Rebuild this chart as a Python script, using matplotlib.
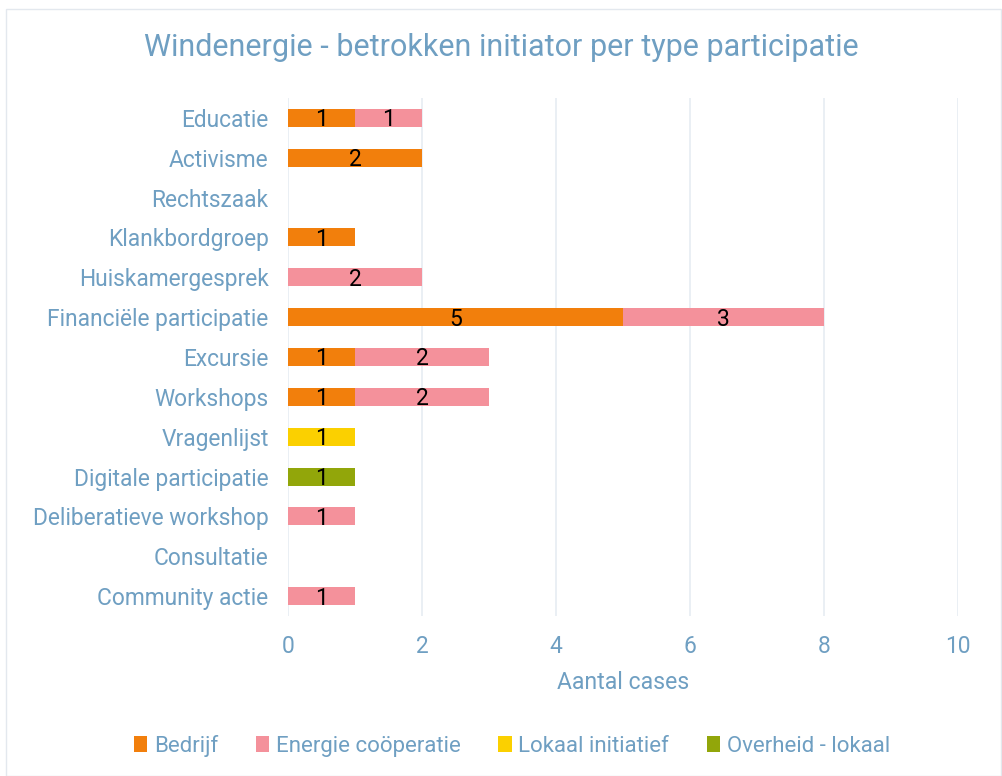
import matplotlib
matplotlib.use("Agg")
import matplotlib.pyplot as plt
import numpy as np
from matplotlib.patches import Rectangle

plt.rcParams['font.family'] = ['Roboto', 'DejaVu Sans']

categories = ["Educatie", "Activisme", "Rechtszaak", "Klankbordgroep", "Huiskamergesprek",
              "Financiële participatie", "Excursie", "Workshops", "Vragenlijst",
              "Digitale participatie", "Deliberatieve workshop", "Consultatie", "Community actie"]
series_names = ["Bedrijf", "Energie coöperatie", "Lokaal initiatief", "Overheid - lokaal"]
bedrijf = [1, 2, 0, 1, 0, 5, 1, 1, 0, 0, 0, 0, 0]
energie = [1, 0, 0, 0, 2, 3, 2, 2, 0, 0, 1, 0, 1]
lokaal = [0, 0, 0, 0, 0, 0, 0, 0, 1, 0, 0, 0, 0]
overheid = [0, 0, 0, 0, 0, 0, 0, 0, 0, 1, 0, 0, 0]
xticks = [0, 2, 4, 6, 8, 10]

colors = ["#F27F0C", "#F4919B", "#FBD000", "#92A60A"]
txt = "#6F9FC2"

fig = plt.figure(figsize=(10.02, 7.76), dpi=100)
fig.patches.append(Rectangle((6/1002, 0), 1 - 7/1002, 1 - 9/776, transform=fig.transFigure,
                             fill=False, edgecolor="#E3E8EE", linewidth=1))
ax = fig.add_axes([288/1002, 1 - 616/776, (958-288)/1002, (616-98)/776])

y = np.arange(len(categories))
left = np.zeros(len(categories))
for vals, name, c in zip([bedrijf, energie, lokaal, overheid], series_names, colors):
    vals = np.array(vals, dtype=float)
    bars = ax.barh(y, vals, left=left, height=0.45, color=c, label=name, zorder=3)
    for b, v in zip(bars, vals):
        if v > 0:
            ax.text(b.get_x() + b.get_width()/2, b.get_y() + b.get_height()/2 + 0.05, f"{int(v)}",
                    ha="center", va="center", fontsize=16.5, color="black", zorder=4)
    left += vals

ax.set_ylim(len(categories) - 0.5, -0.5)
ax.set_xlim(0, 10)
ax.set_xticks(xticks)
ax.set_yticks(y)
ax.set_yticklabels(categories)
ax.tick_params(axis="both", length=0, colors=txt, labelsize=16.4)
ax.tick_params(axis="x", pad=14)
ax.tick_params(axis="y", pad=14)
for s in ax.spines.values():
    s.set_visible(False)
ax.grid(axis="x", color="#E6ECF2", linewidth=1.2, zorder=0)
ax.set_xlabel("Aantal cases", color=txt, fontsize=16.6, labelpad=9)

fig.text(0.5, 1 - 48/776, "Windenergie - betrokken initiator per type participatie",
         ha="center", va="center", fontsize=22, color=txt)

leg = fig.legend(loc="center", bbox_to_anchor=(512/1002, 1 - 746/776), ncol=4, frameon=False,
                 fontsize=16, handlelength=0.6, handleheight=0.7, handletextpad=0.3,
                 columnspacing=1.7)
for t in leg.get_texts():
    t.set_color(txt)

fig.savefig("out.png", dpi=100)
